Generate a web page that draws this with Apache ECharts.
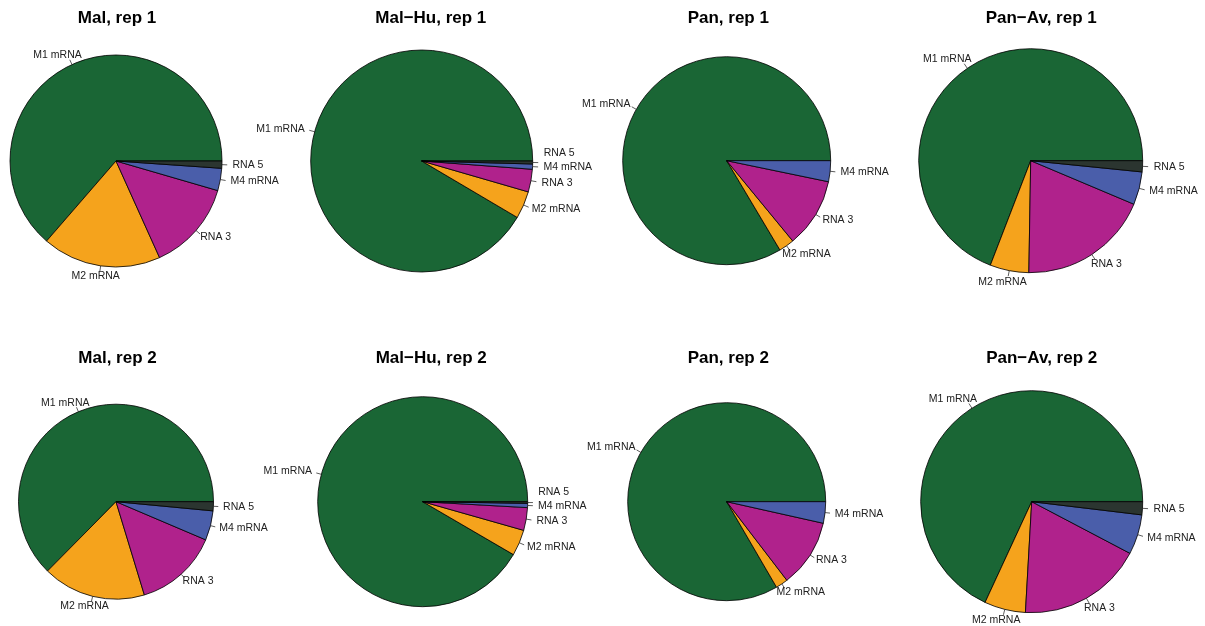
<!DOCTYPE html>
<html>
<head>
<meta charset="utf-8">
<script src="https://cdn.jsdelivr.net/npm/echarts@6/dist/echarts.min.js"></script>
<style>
  html, body { margin: 0; padding: 0; background: #ffffff; }
  #chart { width: 1205px; height: 626px; }
</style>
</head>
<body>
<div id="chart"></div>
<script>
// Slice categories, drawn counter-clockwise from 3 o'clock
const sliceNames = ['M1 mRNA', 'M2 mRNA', 'RNA 3', 'M4 mRNA', 'RNA 5'];

// Panel titles
const panelTitles = [
  'Mal, rep 1', 'Mal\u2212Hu, rep 1', 'Pan, rep 1', 'Pan\u2212Av, rep 1',
  'Mal, rep 2', 'Mal\u2212Hu, rep 2', 'Pan, rep 2', 'Pan\u2212Av, rep 2'
];

// Share of reads per segment (%)
const malRep1   = [63.6, 18.1, 13.75, 3.4, 1.1];
const malHuRep1 = [91.5, 4.0, 3.3, 0.76, 0.43];
const panRep1   = [83.6, 2.4, 10.8, 3.25];
const panAvRep1 = [69.1, 5.6, 18.9, 4.75, 1.6];
const malRep2   = [62.6, 17.1, 13.9, 4.9, 1.5];
const malHuRep2 = [91.6, 4.0, 3.5, 0.65, 0.25];
const panRep2   = [83.4, 2.0, 11.1, 3.5];
const panAvRep2 = [68.1, 6.0, 18.2, 5.8, 1.9];

const panelValues = [malRep1, malHuRep1, panRep1, panAvRep1, malRep2, malHuRep2, panRep2, panAvRep2];

// Slice fill colours
const sliceColors = ['#1a6635', '#f5a31c', '#b0228c', '#4a5eaa', '#2b3530'];

// Panel geometry: pie centre, radius, title centre
const panelLayout = [
  { center: [116, 161],     radius: 106,  titleX: 117,   titleTop: 10 },
  { center: [421.7, 161],   radius: 111,  titleX: 430.8, titleTop: 10 },
  { center: [726.7, 160.7], radius: 104,  titleX: 728.3, titleTop: 10 },
  { center: [1030.7, 160.7],radius: 112,  titleX: 1041.2,titleTop: 10 },
  { center: [116, 501.7],   radius: 97.5, titleX: 117.5, titleTop: 350 },
  { center: [422.7, 501.7], radius: 105,  titleX: 431.2, titleTop: 350 },
  { center: [726.7, 501.7], radius: 99,   titleX: 728.3, titleTop: 350 },
  { center: [1031.7, 501.7],radius: 111,  titleX: 1041.7,titleTop: 350 }
];

const FONT = '"Liberation Sans", Arial, Helvetica, sans-serif';

// Labels sit at 1.1 r along the slice's mid-angle, with a short tick from r to 1.05 r.
// The horizontal anchor slides with the direction so that labels near the top/bottom
// are roughly centred while side labels are flush to the tick.
const placedLabels = {};
function makeLabelLayout(r) {
  return function (params) {
    const pts = params.labelLinePoints;
    if (!pts || pts.length < 2) return {};
    const p0 = pts[0], p1 = pts[1];
    let ux = p1[0] - p0[0], uy = p1[1] - p0[1];
    const len = Math.hypot(ux, uy) || 1;
    ux /= len; uy /= len;
    const w = params.labelRect.width, h = params.labelRect.height;
    const ax = p0[0] + ux * 0.1 * r;
    const ay = p0[1] + uy * 0.1 * r;
    const x = ax - (1 - ux) / 2 * w;
    let y = ay;
    const list = placedLabels[params.seriesIndex] || (placedLabels[params.seriesIndex] = []);
    if (params.dataIndex === 0) list.length = 0;
    list.forEach(function (b) {
      const gap = (h + b.h) / 2 + 3;
      if (x < b.x + b.w && x + w > b.x && Math.abs(y - b.y) < gap) {
        y = y < b.y ? b.y - gap : b.y + gap;
      }
    });
    list.push({ x: x, y: y, w: w, h: h });
    return {
      x: x,
      y: y,
      align: 'left',
      verticalAlign: 'middle',
      labelLinePoints: [[p0[0], p0[1]], [p1[0], p1[1]]]
    };
  };
}

const titles = panelTitles.map(function (t, i) {
  return {
    text: t,
    left: panelLayout[i].titleX,
    top: panelLayout[i].titleTop,
    textAlign: 'center',
    padding: 0,
    textStyle: { fontFamily: FONT, fontSize: 17, fontWeight: 'bold', color: '#000000' }
  };
});

const series = panelValues.map(function (vals, i) {
  const lay = panelLayout[i];
  return {
    type: 'pie',
    center: lay.center,
    radius: lay.radius,
    startAngle: 0,
    clockwise: false,
    avoidLabelOverlap: false,
    silent: true,
    animation: false,
    data: vals.map(function (v, k) {
      return { name: sliceNames[k], value: v, itemStyle: { color: sliceColors[k] } };
    }),
    itemStyle: { borderColor: '#000000', borderWidth: 0.8 },
    label: {
      show: true,
      position: 'outside',
      formatter: '{b}',
      fontFamily: FONT,
      fontSize: 10.5,
      color: '#222222'
    },
    labelLine: {
      show: true,
      length: 0.05 * lay.radius,
      length2: 0,
      smooth: false,
      lineStyle: { color: '#333333', width: 0.8 }
    },
    labelLayout: makeLabelLayout(lay.radius),
    emphasis: { disabled: true }
  };
});

const chart = echarts.init(document.getElementById('chart'), null, { renderer: 'canvas' });
chart.setOption({
  backgroundColor: '#ffffff',
  animation: false,
  title: titles,
  series: series
});
</script>
</body>
</html>
